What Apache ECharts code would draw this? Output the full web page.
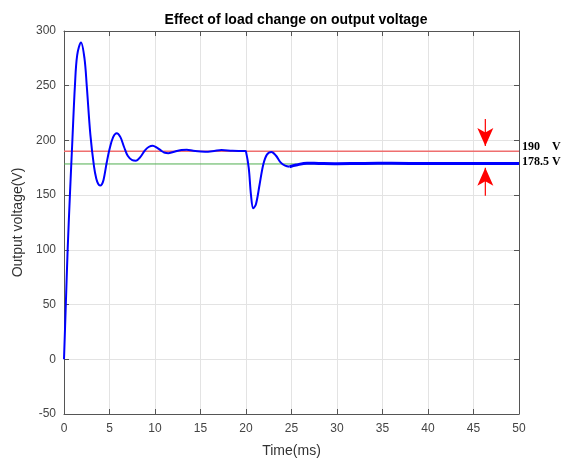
<!DOCTYPE html>
<html>
<head>
<meta charset="utf-8">
<script src="https://cdn.jsdelivr.net/npm/echarts@6/dist/echarts.min.js"></script>
<style>html,body{margin:0;padding:0;background:#fff}#c{width:566px;height:464px}</style>
</head>
<body>
<div id="c"></div>
<script>
// Time (ms)
const timeHead = [0,0.2,0.4,0.65,0.92,1.2,1.45,1.87,2.25,2.5,2.9,3.3,3.55,3.75,3.96,4.15,4.35,4.7,5.0,5.4,5.79,6.2,6.6,7.0,7.5,7.91,8.4,8.9,9.3,9.75,10.2,10.7,11.0,11.46,12.0,12.9,13.5,14.2,15.5,16.5,17.3,18.5,19.9,20.0,20.3,20.55,20.8,21.1,21.5,21.9,22.3,22.8,23.3,23.8,24.3,24.8];
// Output voltage (V)
const voltHead = [0,50,100,150,200,250,278,289.5,275,250,205,176,165,160.5,158.7,159.8,164,180,192,203,206.6,203,194,186,182,181.5,185,191,194,195.2,193.5,190.5,189,188.3,189.5,191.3,191.5,190.5,189.6,190.3,191.2,190.5,190.3,189.8,175,150,138,142,160,178,187,189.5,186,180,177,176];
const timeTail = [24.8,25.5,26.7,28,30,33,36,40,44,47,50];
const voltTail = [176,177.5,179.2,179,178.8,179,179.1,178.9,179,179,179];
const refHigh = 190;
const refLow = 178.5;
// annotation arrows: [time, stem end, arrow tip]
const arrowTime = 46.3;
const arrowDown = [219.5, 195];
const arrowUp = [149.5, 175];
const xTicks = [0,5,10,15,20,25,30,35,40,45,50];
const yTicks = [-50,0,50,100,150,200,250,300];

const chart = echarts.init(document.getElementById('c'), null, {renderer:'canvas'});
const font = "'Liberation Sans', Arial, sans-serif";
const axisCommon = {
  axisLine:{show:true, onZero:false, lineStyle:{color:'#555', width:1}},
  axisTick:{show:true, inside:true, length:5, lineStyle:{color:'#555'}},
};
function arrowSeries(vals, rot){
  return {type:'line', silent:true, z:4,
    data:[{value:[arrowTime, vals[0]], symbol:'none'},
          {value:[arrowTime, vals[1]], symbol:'arrow', symbolSize:[12,18], symbolRotate:rot}],
    showSymbol:true, lineStyle:{color:'#ff0000', width:1.2}, itemStyle:{color:'#ff0000'}};
}
const option = {
  animation:false,
  backgroundColor:'#fff',
  title:{text:'Effect of load change on output voltage', left:291, textAlign:'center', top:8,
    textStyle:{fontFamily:font, fontSize:14, fontWeight:'bold', color:'#000'}},
  grid:{left:64, right:47, top:31, bottom:50},
  xAxis:[
    Object.assign({type:'value', min:xTicks[0], max:xTicks[xTicks.length-1], interval:5,
      name:'Time(ms)', nameLocation:'middle', nameGap:30,
      nameTextStyle:{fontFamily:font, fontSize:14, color:'#333'},
      axisLabel:{fontFamily:font, fontSize:12, color:'#444', margin:9},
      splitLine:{show:true, lineStyle:{color:'#e3e3e3'}}}, axisCommon),
    Object.assign({type:'value', position:'top', min:0, max:50, interval:5,
      axisLabel:{show:false}, splitLine:{show:false}}, axisCommon)
  ],
  yAxis:[
    Object.assign({type:'value', min:yTicks[0], max:yTicks[yTicks.length-1], interval:50,
      name:'Output voltage(V)', nameLocation:'middle', nameGap:36,
      nameTextStyle:{fontFamily:font, fontSize:14, color:'#333'},
      axisLabel:{fontFamily:font, fontSize:12, color:'#444', margin:8},
      splitLine:{show:true, lineStyle:{color:'#e3e3e3'}}}, axisCommon),
    Object.assign({type:'value', position:'right', min:-50, max:300, interval:50,
      axisLabel:{show:false}, splitLine:{show:false}}, axisCommon)
  ],
  series:[
    {type:'line', name:'190', data:[[0,refHigh],[50,refHigh]], symbol:'none',
     lineStyle:{color:'#ef6f6f', width:1.5}, z:2},
    {type:'line', name:'178.5', data:[[0,refLow],[50,refLow]], symbol:'none',
     lineStyle:{color:'#4fae4f', width:1}, z:2},
    {type:'line', name:'v1', data:timeHead.map((t,i)=>[t,voltHead[i]]), symbol:'none', smooth:0.35,
     lineStyle:{color:'#0000ff', width:2}, z:3},
    {type:'line', name:'v2', data:timeTail.map((t,i)=>[t,voltTail[i]]), symbol:'none', smooth:0.35,
     lineStyle:{color:'#0000ff', width:3}, z:3},
    arrowSeries(arrowDown, 180),
    arrowSeries(arrowUp, 0)
  ]
};
chart.setOption(option);
const p1 = chart.convertToPixel({gridIndex:0}, [50, refHigh]);
const p2 = chart.convertToPixel({gridIndex:0}, [50, refLow]);
const tfont = "bold 12px 'Liberation Serif', 'Times New Roman', serif";
chart.setOption({graphic:[
  {type:'text', left:p1[0]+3, top:p1[1]-10, style:{text:'190    V', font:tfont, fill:'#000'}},
  {type:'text', left:p2[0]+3, top:p2[1]-8, style:{text:'178.5 V', font:tfont, fill:'#000'}}
]});
</script>
</body>
</html>
